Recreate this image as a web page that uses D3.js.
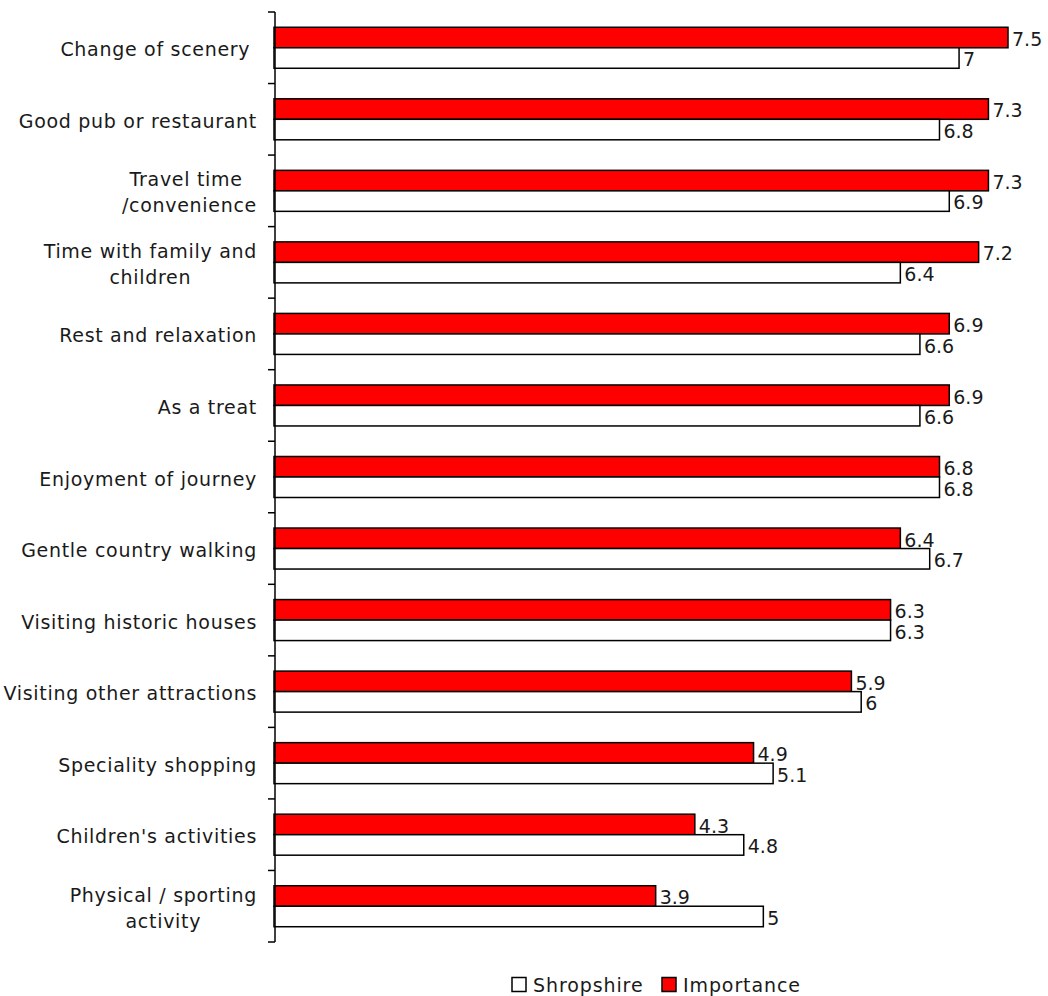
<!DOCTYPE html>
<html>
<head>
<meta charset="utf-8">
<script src="https://cdn.jsdelivr.net/npm/d3@7"></script>
<style>
  html, body { margin: 0; padding: 0; background: #fff; }
  svg text { font-family: "DejaVu Sans", sans-serif; fill: #1a1a1a; white-space: pre; }
</style>
</head>
<body>
<div id="chart"></div>
<script>
// categories, each one the lines of its axis label
const categories = [
  ['Change of scenery '],
  ['Good pub or restaurant'],
  ['Travel time ', '/convenience'],
  ['Time with family and', 'children'],
  ['Rest and relaxation'],
  ['As a treat'],
  ['Enjoyment of journey'],
  ['Gentle country walking'],
  ['Visiting historic houses'],
  ['Visiting other attractions'],
  ['Speciality shopping'],
  ["Children's activities"],
  ['Physical / sporting', 'activity']
];
const importance = [7.5, 7.3, 7.3, 7.2, 6.9, 6.9, 6.8, 6.4, 6.3, 5.9, 4.9, 4.3, 3.9];
const shropshire = [7, 6.8, 6.9, 6.4, 6.6, 6.6, 6.8, 6.7, 6.3, 6, 5.1, 4.8, 5];
const seriesNames = ['Importance', 'Shropshire'];
const seriesFill = { Importance: '#ff0000', Shropshire: '#ffffff' };

const W = 1048, H = 996;
const FS = '19px';
const svg = d3.select('#chart').append('svg').attr('width', W).attr('height', H);

const x = d3.scaleLinear().domain([0, 7.5]).range([274, 1008]);
const y = d3.scaleBand().domain(d3.range(categories.length)).range([12, 942]).padding(0);
const inner = d3.scaleBand().domain(seriesNames).range([0, y.bandwidth()])
  .paddingInner(0).paddingOuter(0.745);

const rows = categories.map((c, i) => ({
  i, lines: c,
  vals: [{ s: 'Importance', v: importance[i] }, { s: 'Shropshire', v: shropshire[i] }]
}));

// bars
const grp = svg.append('g').selectAll('g').data(rows).join('g')
  .attr('transform', d => `translate(0,${y(d.i)})`);

grp.selectAll('rect').data(d => d.vals).join('rect')
  .attr('x', x(0))
  .attr('y', d => inner(d.s))
  .attr('width', d => x(d.v) - x(0))
  .attr('height', inner.bandwidth())
  .attr('fill', d => seriesFill[d.s])
  .attr('stroke', '#000')
  .attr('stroke-width', 1.5);

// value labels
grp.selectAll('text.val').data(d => d.vals).join('text')
  .attr('class', 'val')
  .attr('x', d => x(d.v) + 4)
  .attr('y', d => inner(d.s) + inner.bandwidth() / 2)
  .attr('dy', '0.44em')
  .attr('font-size', FS)
  .text(d => d.v);

// axis line and ticks at band boundaries
const ax = svg.append('g');
ax.append('line')
  .attr('x1', 275).attr('x2', 275)
  .attr('y1', y.range()[0]).attr('y2', y.range()[1])
  .attr('stroke', '#000').attr('stroke-width', 1.5);
const bounds = d3.range(categories.length + 1).map(i => y.range()[0] + i * y.step());
ax.selectAll('line.tick').data(bounds).join('line')
  .attr('class', 'tick')
  .attr('x1', 268).attr('x2', 275)
  .attr('y1', d => d).attr('y2', d => d)
  .attr('stroke', '#000').attr('stroke-width', 1.5);

// category labels: wrapped lines are centred on each other, block right-aligned
const lineH = 26, labelRight = 257;
const lab = svg.append('g').selectAll('text').data(rows).join('text')
  .attr('font-size', FS)
  .attr('letter-spacing', '0.7px')
  .attr('text-anchor', 'middle')
  .attr('y', d => y(d.i) + y.bandwidth() / 2 - (d.lines.length - 1) * lineH / 2);
lab.selectAll('tspan').data(d => d.lines).join('tspan')
  .attr('dy', (d, j) => j === 0 ? '0.45em' : lineH + 'px')
  .text(d => d);
lab.each(function () {
  const t = d3.select(this);
  let maxW = 0;
  t.selectAll('tspan').each(function () { maxW = Math.max(maxW, this.getComputedTextLength()); });
  t.selectAll('tspan').attr('x', labelRight - maxW / 2);
});

// legend
const legendItems = ['Shropshire', 'Importance'];
const legendX = [512, 662];
const lg = svg.append('g').selectAll('g').data(legendItems).join('g')
  .attr('transform', (d, i) => `translate(${legendX[i]},984.5)`);
lg.append('rect')
  .attr('x', 0).attr('y', -7)
  .attr('width', 14).attr('height', 14)
  .attr('fill', d => seriesFill[d])
  .attr('stroke', '#000').attr('stroke-width', 1.5);
lg.append('text')
  .attr('x', 21).attr('dy', '0.38em')
  .attr('font-size', FS)
  .attr('letter-spacing', '0.9px')
  .text(d => d);
</script>
</body>
</html>
